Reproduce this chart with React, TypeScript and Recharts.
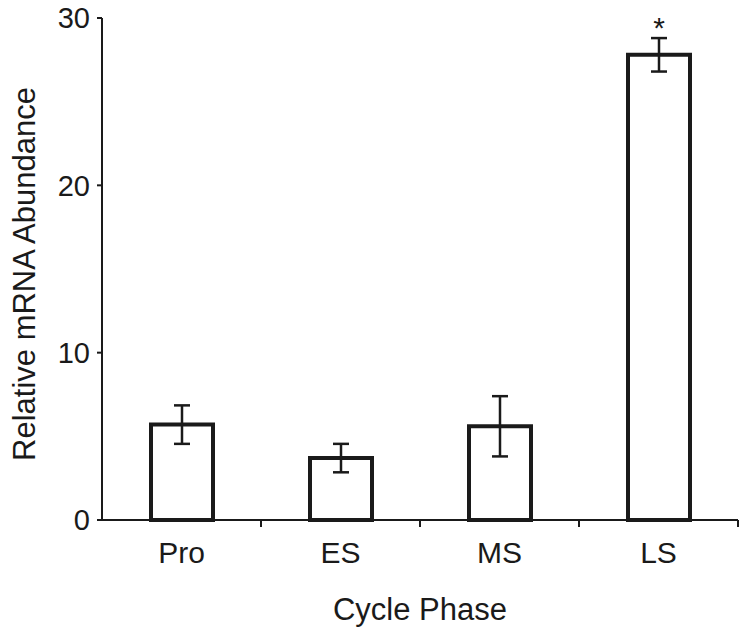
import React from 'react';
import { BarChart, Bar, XAxis, YAxis, ErrorBar, LabelList } from 'recharts';

const phases = ['Pro', 'ES', 'MS', 'LS'];
const abundance = [5.7, 3.7, 5.6, 27.8];
const errors = [1.15, 0.85, 1.8, 1.0];
const marks = ['', '', '', '*'];
const yTicks = [0, 10, 20, 30];

const data = phases.map((phase, i) => ({
  phase,
  value: abundance[i],
  err: errors[i],
  mark: marks[i],
}));

const font = '"Liberation Sans", Arial, sans-serif';
const ink = '#1a1a1a';

// category label plus a tick mark on the right edge of each band
const PhaseTick = (props: any) => {
  const { x, y, payload } = props;
  const half = payload && payload.offset ? payload.offset : 0;
  return (
    <g>
      <line x1={x + half} x2={x + half} y1={y - 8} y2={y - 1} stroke={ink} strokeWidth={2} />
      <text x={x} y={y + 35} textAnchor="middle" fill={ink} fontSize={30} fontFamily={font}>
        {payload.value}
      </text>
    </g>
  );
};

const App: React.FC = () => {
  return (
    <div style={{ position: 'absolute', left: 0, top: 0, background: '#fff' }}>
      <BarChart width={750} height={638} data={data} margin={{ top: 18, right: 12, left: 0, bottom: 0 }}>
        <XAxis
          dataKey="phase"
          height={118}
          axisLine={{ stroke: ink, strokeWidth: 2 }}
          tickLine={false}
          tick={<PhaseTick />}
          label={{ value: 'Cycle Phase', position: 'insideBottom', offset: 18, fill: ink, fontSize: 31, fontFamily: font }}
        />
        <YAxis
          width={102}
          domain={[0, 30]}
          ticks={yTicks}
          tickSize={5}
          tickMargin={7}
          axisLine={{ stroke: ink, strokeWidth: 2 }}
          tickLine={{ stroke: ink, strokeWidth: 2 }}
          tick={{ fill: ink, fontSize: 29, fontFamily: font }}
          label={{
            value: 'Relative mRNA Abundance',
            angle: -90,
            position: 'insideLeft',
            offset: 24,
            dy: 5,
            fill: ink,
            fontSize: 31,
            fontFamily: font,
            style: { textAnchor: 'middle' },
          }}
        />
        <Bar dataKey="value" fill="#fff" stroke={ink} strokeWidth={4} barSize={62} isAnimationActive={false}>
          <ErrorBar dataKey="err" width={8} stroke={ink} strokeWidth={2.5} />
          <LabelList dataKey="mark" position="top" offset={17} fill={ink} fontSize={30} fontFamily={font} />
        </Bar>
      </BarChart>
    </div>
  );
};

export default App;
